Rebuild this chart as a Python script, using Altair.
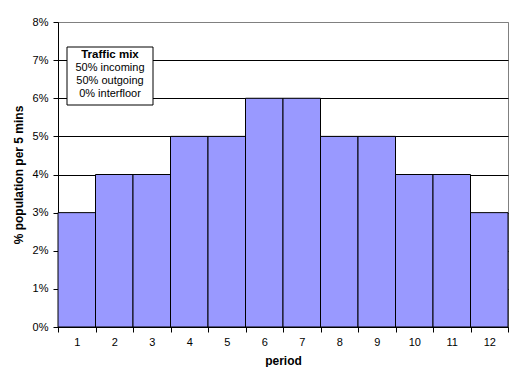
import altair as alt
import pandas as pd

periods = [str(i) for i in range(1, 13)]
values = [0.03, 0.04, 0.04, 0.05, 0.05, 0.06, 0.06, 0.05, 0.05, 0.04, 0.04, 0.03]
y_ticks = [0, 0.01, 0.02, 0.03, 0.04, 0.05, 0.06, 0.07, 0.08]
legend_lines = ["Traffic mix", "50% incoming", "50% outgoing", "0% interfloor"]
legend_bold = [True, False, False, False]

df = pd.DataFrame({"period": periods, "value": values})
FONT = "Liberation Sans"

bars = alt.Chart(df).mark_bar(
    fill="#9999FF", stroke="black", strokeWidth=1, opacity=1
).encode(
    x=alt.X("period:O", sort=periods,
            scale=alt.Scale(paddingInner=0, paddingOuter=0),
            axis=alt.Axis(title="period", labelAngle=0, tickBand="extent",
                          domainColor="black", tickColor="black", tickSize=5,
                          labelColor="black", labelFont=FONT, labelFontSize=11,
                          labelPadding=4, titleFont=FONT, titleFontSize=12,
                          titleFontWeight="bold", titleColor="black", titlePadding=8)),
    y=alt.Y("value:Q", scale=alt.Scale(domain=[0, 0.08], nice=False),
            axis=alt.Axis(title="% population per 5 mins", format=".0%", values=y_ticks,
                          grid=True,
                          gridColor={"condition": {"test": "datum.value >= 0.079", "value": "#808080"}, "value": "black"},
                          domainColor="black", tickColor="black", tickSize=5,
                          labelColor="black", labelFont=FONT, labelFontSize=11,
                          labelPadding=5, titleFont=FONT, titleFontSize=12,
                          titleFontWeight="bold", titleColor="black", titlePadding=7)),
)

box = alt.Chart(pd.DataFrame({"a": [0]})).mark_rect(
    fill="white", stroke="black", strokeWidth=1
).encode(x=alt.value(9), x2=alt.value(95), y=alt.value(25), y2=alt.value(83))

leg_df = pd.DataFrame({"line": legend_lines, "i": list(range(len(legend_lines))),
                       "bold": legend_bold})
ys = [33, 46, 59, 72]
texts = []
for i, (t, b) in enumerate(zip(legend_lines, legend_bold)):
    texts.append(
        alt.Chart(leg_df[leg_df.i == i]).mark_text(
            font=FONT, fontSize=11.5 if b else 11, fontWeight="bold" if b else "normal",
            color="black", align="center", baseline="middle"
        ).encode(x=alt.value(52), y=alt.value(ys[i]), text="line:N")
    )

chart = alt.layer(bars, box, *texts).properties(
    width=450, height=305,
    padding={"left": 50, "top": 14, "right": 3, "bottom": 40},
    autosize=alt.AutoSizeParams(type="none"),
    background="white",
).configure_view(stroke="#808080", strokeWidth=1)

chart.save("out.html", embed_options={"renderer": "svg", "actions": False})
